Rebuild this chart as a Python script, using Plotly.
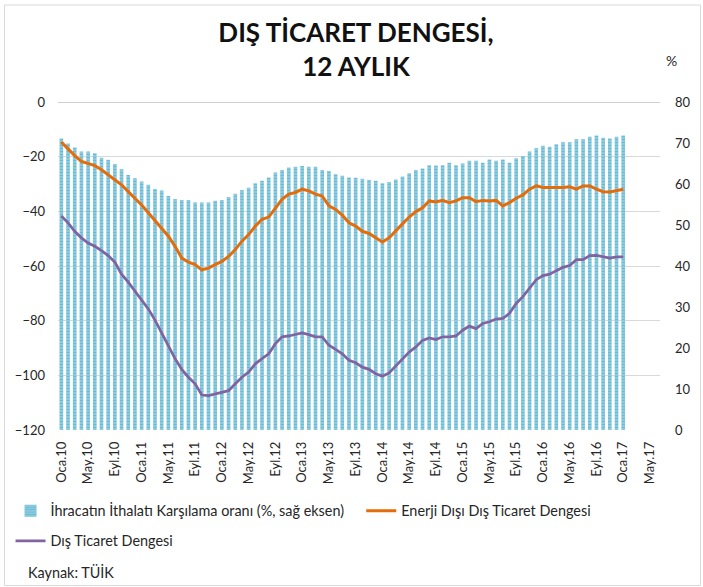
import plotly.graph_objects as go

# ---- data ----
ay = ["Oca", "Şub", "Mar", "Nis", "May", "Haz", "Tem", "Ağu", "Eyl", "Eki", "Kas", "Ara"]
months = [f"{ay[i % 12]}.{10 + i // 12}" for i in range(90)]  # Oca.10 .. Haz.17
tick_labels = months[0:89:4]  # Oca.10, May.10, Eyl.10 ... May.17

# İhracatın İthalatı Karşılama oranı (%, sağ eksen)
coverage_ratio = [
    71.1, 69.9, 68.9, 67.9, 67.9, 67.5, 66.4, 65.9, 64.9, 63.6, 62.2, 61.4,
    60.6, 59.8, 58.8, 58.4, 57.1, 56.3, 56.1, 56.1, 55.5, 55.5, 55.5, 55.9,
    56.1, 56.8, 57.6, 58.5, 59.1, 60.2, 60.8, 61.6, 62.8, 63.4, 64.0, 64.2,
    64.4, 64.2, 64.2, 63.4, 63.2, 62.4, 62.0, 61.6, 61.5, 61.3, 61.0, 60.8,
    60.2, 60.5, 61.1, 61.8, 62.6, 63.4, 63.8, 64.6, 64.5, 64.6, 65.2, 64.6,
    65.0, 65.7, 65.7, 65.2, 66.0, 65.7, 66.0, 65.2, 66.3, 66.8, 67.9, 68.7,
    69.3, 69.1, 69.7, 70.2, 70.2, 70.9, 70.9, 71.5, 71.8, 71.3, 71.1, 71.5,
    71.8,
]

# Enerji Dışı Dış Ticaret Dengesi (sol eksen)
non_energy_balance = [
    -14.7, -17.2, -19.6, -21.7, -22.5, -23.3, -24.8, -26.6, -28.2, -30.3, -32.8, -35.2,
    -37.7, -40.5, -43.3, -46.0, -49.1, -52.8, -57.1, -58.6, -59.5, -61.4, -60.8, -59.5,
    -58.3, -56.5, -54.0, -50.9, -48.5, -45.4, -42.9, -42.1, -38.7, -35.6, -33.7, -33.1,
    -31.9, -32.5, -33.7, -34.4, -38.0, -39.3, -41.4, -44.2, -45.4, -47.3, -48.1, -49.7,
    -51.2, -49.7, -47.0, -44.6, -42.1, -40.1, -38.7, -36.2, -36.6, -36.0, -36.8, -36.2,
    -35.0, -35.0, -36.5, -36.0, -36.2, -36.0, -38.0, -36.8, -35.2, -34.0, -31.9, -30.7,
    -31.3, -31.3, -31.5, -31.3, -31.0, -31.9, -30.7, -30.7, -31.9, -32.8, -32.9, -32.5,
    -31.9,
]

# Dış Ticaret Dengesi (sol eksen)
trade_balance = [
    -41.7, -44.2, -47.3, -49.7, -51.6, -52.8, -54.4, -56.2, -58.6, -63.0, -65.9, -69.1,
    -72.2, -75.7, -79.8, -84.7, -89.0, -93.9, -97.8, -100.7, -103.1, -107.2, -107.4, -106.8,
    -106.4, -105.6, -103.1, -100.7, -98.8, -95.8, -93.9, -92.1, -88.4, -85.9, -85.6, -85.1,
    -84.5, -85.1, -85.9, -85.9, -89.0, -90.5, -92.1, -94.5, -95.4, -97.0, -97.8, -99.4,
    -100.3, -99.1, -96.6, -94.1, -91.5, -89.6, -87.2, -86.3, -86.9, -85.9, -85.9, -85.6,
    -83.5, -82.0, -82.9, -81.0, -80.4, -79.4, -79.2, -77.3, -73.7, -71.2, -68.1, -65.0,
    -63.5, -63.0, -61.7, -60.5, -59.8, -57.7, -57.7, -56.2, -56.1, -56.7, -57.1, -56.7,
    -56.7,
]

x_data = months[:len(coverage_ratio)]

# ---- layout geometry (pixels) ----
W, H = 703, 587
ML, MR, MT, MB = 57.5, 43, 102, 157
PW, PH = W - ML - MR, H - MT - MB


def px(x):
    return (x - ML) / PW


def py(y):
    return (H - MB - y) / PH


FONT = "Lato, 'Open Sans', sans-serif"
TXT = "#262626"

fig = go.Figure()

fig.add_trace(go.Bar(
    x=x_data, y=coverage_ratio, yaxis="y",
    name="İhracatın İthalatı Karşılama oranı (%, sağ eksen)",
    width=0.55,
    marker=dict(
        color="#97d0e3",
        line=dict(width=0),
        pattern=dict(shape="-", fgcolor="#339fc1", bgcolor="#a2d6e7",
                     size=3, solidity=0.62, fillmode="overlay"),
    ),
    legend="legend", showlegend=True,
))

fig.add_trace(go.Scatter(
    x=x_data, y=non_energy_balance, yaxis="y2", mode="lines",
    name="Enerji Dışı Dış Ticaret Dengesi",
    line=dict(color="#E46C0A", width=3),
    legend="legend2", showlegend=True,
))

fig.add_trace(go.Scatter(
    x=x_data, y=trade_balance, yaxis="y2", mode="lines",
    name="Dış Ticaret Dengesi",
    line=dict(color="#8064A2", width=2.75),
    legend="legend3", showlegend=True,
))

legend_common = dict(orientation="h", bgcolor="rgba(0,0,0,0)",
                     font=dict(family=FONT, size=14.4, color=TXT),
                     xanchor="left", yanchor="middle", itemclick=False,
                     visible=True)

fig.update_layout(
    width=W, height=H,
    showlegend=True,
    margin=dict(l=ML, r=MR, t=MT, b=MB, autoexpand=False),
    paper_bgcolor="white", plot_bgcolor="white",
    font=dict(family=FONT, size=13, color=TXT),
    barmode="overlay",
    title=dict(
        text="<b>DIŞ TİCARET DENGESİ,<br>12 AYLIK</b>",
        x=356 / W, xanchor="center",
        y=1 - 42 / H, yanchor="middle", xref="container", yref="container",
        font=dict(family=FONT, size=26, color="#111111"),
    ),
    xaxis=dict(
        type="category", categoryorder="array", categoryarray=months,
        range=[-0.5, len(months) - 0.5],
        tickmode="array", tickvals=tick_labels, ticktext=tick_labels,
        tickangle=-90, ticks="", showgrid=False, showline=False, zeroline=False,
        ticklabelstandoff=8,
        tickfont=dict(family=FONT, size=13, color=TXT),
    ),
    yaxis=dict(
        side="right", range=[0, 80], dtick=10, showgrid=False,
        zeroline=False, showline=False, ticks="",
        ticklabelstandoff=14,
        tickfont=dict(family=FONT, size=13, color=TXT),
    ),
    yaxis2=dict(
        overlaying="y", side="left", range=[-120, 0], dtick=20,
        showgrid=True, gridcolor="#d9d9d9", gridwidth=1,
        zeroline=False, showline=False, ticks="",
        ticklabelstandoff=12,
        tickfont=dict(family=FONT, size=13, color=TXT),
    ),
    legend=dict(x=px(10), y=py(511), **legend_common),
    legend2=dict(x=px(361), y=py(511), **legend_common),
    legend3=dict(x=px(10), y=py(541), **legend_common),
    shapes=[
        dict(type="line", xref="paper", yref="y2", x0=0, x1=1, y0=0, y1=0,
             line=dict(color="#bfbfbf", width=1.5), layer="below"),
        dict(type="rect", xref="paper", yref="paper",
             x0=px(4), x1=px(700.5), y0=py(5), y1=py(585.5),
             line=dict(color="#d9d9d9", width=1), fillcolor="rgba(0,0,0,0)"),
    ],
    annotations=[
        dict(text="%", xref="paper", yref="paper", x=px(672), y=py(60),
             xanchor="center", yanchor="middle", showarrow=False,
             font=dict(family=FONT, size=14, color=TXT)),
        dict(text="Kaynak: TÜİK", xref="paper", yref="paper", x=px(25), y=py(572),
             xanchor="left", yanchor="middle", showarrow=False,
             font=dict(family=FONT, size=14.4, color=TXT)),
    ],
)

fig.write_html("out.html",
               config={"displayModeBar": False},
               post_script="document.body.style.margin='0';document.body.style.overflow='hidden';")
